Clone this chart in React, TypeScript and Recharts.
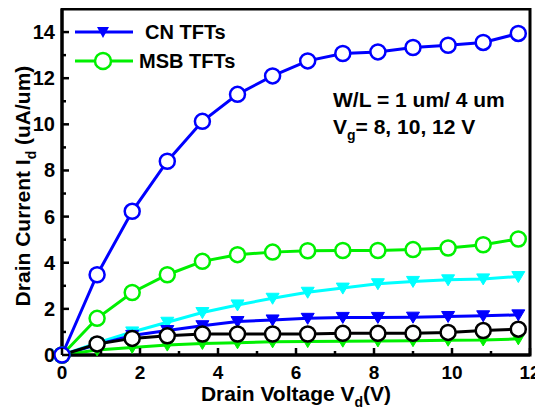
import React from 'react';
import { LineChart, Line, XAxis, YAxis, ReferenceArea, Legend } from 'recharts';

const vd = [0, 0.9, 1.8, 2.7, 3.6, 4.5, 5.4, 6.3, 7.2, 8.1, 9.0, 9.9, 10.8, 11.7];
const cnCircle = [0, 3.48, 6.23, 8.4, 10.13, 11.3, 12.1, 12.75, 13.07, 13.14, 13.33, 13.43, 13.55, 13.94];
const msbCircle = [0, 1.59, 2.71, 3.48, 4.06, 4.35, 4.46, 4.52, 4.53, 4.53, 4.57, 4.64, 4.78, 5.03];
const cyanTri = [0, 0.52, 1.0, 1.42, 1.84, 2.17, 2.46, 2.72, 2.9, 3.09, 3.19, 3.26, 3.3, 3.4];
const cnTri = [0, 0.45, 0.85, 1.06, 1.27, 1.45, 1.52, 1.59, 1.63, 1.63, 1.64, 1.67, 1.7, 1.74];
const blackCircle = [0, 0.48, 0.72, 0.83, 0.91, 0.91, 0.91, 0.91, 0.94, 0.94, 0.94, 0.98, 1.06, 1.12];
const msbTri = [0, 0.22, 0.33, 0.43, 0.5, 0.53, 0.57, 0.58, 0.6, 0.61, 0.62, 0.64, 0.65, 0.7];

const xTicks = [0, 1, 2, 3, 4, 5, 6, 7, 8, 9, 10, 11, 12];
const yTicks = [0, 1, 2, 3, 4, 5, 6, 7, 8, 9, 10, 11, 12, 13, 14];

const data = vd.map((v, i) => ({
  vd: v,
  cnCircle: cnCircle[i],
  msbCircle: msbCircle[i],
  cyanTri: cyanTri[i],
  cnTri: cnTri[i],
  blackCircle: blackCircle[i],
  msbTri: msbTri[i],
}));

const FONT = '"Liberation Sans", Arial, Helvetica, sans-serif';
const BLUE = '#0000ff';
const GREEN = '#00f000';
const CYAN = '#00ffff';

const triDot = (color: string) => (p: any) => {
  const { cx, cy, index } = p;
  if (cx == null || cy == null) return <g key={`t-${color}-${index}`} />;
  return (
    <polygon
      key={`t-${color}-${index}`}
      points={`${cx - 6.5},${cy - 5} ${cx + 6.5},${cy - 5} ${cx},${cy + 6}`}
      fill={color}
      stroke={color}
      strokeWidth={1}
    />
  );
};

const circleDot = (color: string) => ({ r: 7.5, fill: '#ffffff', stroke: color, strokeWidth: 2.5 });

const YTick = (props: any) => {
  const { x, y, payload } = props;
  const v = payload.value;
  const major = v % 2 === 0;
  return (
    <g>
      <line x1={x} x2={x + (major ? 7 : 4)} y1={y} y2={y} stroke="#000" strokeWidth={2.5} />
      {major && (
        <text x={x - 7} y={y + 7} textAnchor="end" fontFamily={FONT} fontWeight="bold" fontSize={20} fill="#000">
          {v}
        </text>
      )}
    </g>
  );
};

const XTick = (props: any) => {
  const { x, y, payload } = props;
  const v = payload.value;
  const major = v % 2 === 0;
  return (
    <g>
      <line x1={x} x2={x} y1={y} y2={y - (major ? 7 : 4)} stroke="#000" strokeWidth={2.5} />
      {major && (
        <text x={x} y={y + 24} textAnchor="middle" fontFamily={FONT} fontWeight="bold" fontSize={19} fill="#000">
          {v}
        </text>
      )}
    </g>
  );
};

const LegendContent = (props: any) => {
  const items = (props.payload || []).filter((e: any) => e.type !== 'none');
  return (
    <svg width={200} height={62} style={{ display: 'block', overflow: 'visible' }}>
      {items.map((e: any, i: number) => {
        const cy = 10 + i * 29;
        const isTri = String(e.dataKey).endsWith('Tri');
        const color = e.color;
        return (
          <g key={i}>
            <line x1={0} x2={58} y1={cy} y2={cy} stroke={color} strokeWidth={3} />
            {isTri ? (
              <polygon points={`${28 - 6},${cy - 5} ${28 + 6},${cy - 5} ${28},${cy + 6}`} fill={color} />
            ) : (
              <circle cx={28} cy={cy} r={8} fill="#fff" stroke={color} strokeWidth={2.5} />
            )}
            <text x={isTri ? 70 : 64} y={cy + 7} fontFamily={FONT} fontWeight="bold" fontSize={20} fill="#000">
              {e.value}
            </text>
          </g>
        );
      })}
    </svg>
  );
};

export default function App() {
  return (
    <LineChart width={535} height={402} data={data} margin={{ top: 1, right: 13, left: 0, bottom: 0 }}>
      <ReferenceArea x1={0} x2={12} y1={0} y2={15} fill="none" stroke="#000" strokeWidth={3} ifOverflow="visible" />
      <XAxis
        dataKey="vd"
        type="number"
        domain={[0, 12]}
        ticks={xTicks}
        interval={0}
        tickSize={0}
        tickMargin={0}
        tickLine={false}
        axisLine={{ stroke: '#000', strokeWidth: 3 }}
        tick={<XTick />}
        height={55}
      />
      <YAxis
        type="number"
        domain={[0, 15]}
        ticks={yTicks}
        interval={0}
        tickSize={0}
        tickMargin={0}
        tickLine={false}
        axisLine={{ stroke: '#000', strokeWidth: 3 }}
        tick={<YTick />}
        width={54}
      />
      <Legend
        verticalAlign="top"
        align="left"
        layout="vertical"
        width={0}
        height={0}
        content={<LegendContent />}
        wrapperStyle={{ position: 'absolute', left: 67, top: 14, width: 0, height: 0, overflow: 'visible' }}
      />
      <Line dataKey="cyanTri" name="cyan" legendType="none" stroke={CYAN} strokeWidth={3} dot={triDot(CYAN)} activeDot={false} isAnimationActive={false} />
      <Line dataKey="cnTri" name="CN TFTs" stroke={BLUE} strokeWidth={3} dot={triDot(BLUE)} activeDot={false} isAnimationActive={false} />
      <Line dataKey="msbTri" name="msbTri" legendType="none" stroke={GREEN} strokeWidth={3} dot={triDot(GREEN)} activeDot={false} isAnimationActive={false} />
      <Line dataKey="blackCircle" name="black" legendType="none" stroke="#000" strokeWidth={3} dot={circleDot('#000')} activeDot={false} isAnimationActive={false} />
      <Line dataKey="msbCircle" name="MSB TFTs" stroke={GREEN} strokeWidth={3} dot={circleDot(GREEN)} activeDot={false} isAnimationActive={false} />
      <Line dataKey="cnCircle" name="cnCircle" legendType="none" stroke={BLUE} strokeWidth={3} dot={circleDot(BLUE)} activeDot={false} isAnimationActive={false} />
      <text x={325} y={99} fontFamily={FONT} fontWeight="bold" fontSize={21} fill="#000">
        W/L = 1 um/ 4 um
      </text>
      <text x={325} y={126} fontFamily={FONT} fontWeight="bold" fontSize={21} fill="#000">
        V<tspan fontSize={14} dy={6}>g</tspan><tspan dy={-6}>= 8, 10, 12 V</tspan>
      </text>
      <text x={288} y={393} textAnchor="middle" fontFamily={FONT} fontWeight="bold" fontSize={21} fill="#000">
        Drain Voltage V<tspan fontSize={14} dy={6}>d</tspan><tspan dy={-6}>(V)</tspan>
      </text>
      <text x={22} y={178} textAnchor="middle" transform="rotate(-90 22 178)" fontFamily={FONT} fontWeight="bold" fontSize={21} fill="#000">
        Drain Current I<tspan fontSize={14} dy={6}>d</tspan><tspan dy={-6}> (uA/um)</tspan>
      </text>
    </LineChart>
  );
}
